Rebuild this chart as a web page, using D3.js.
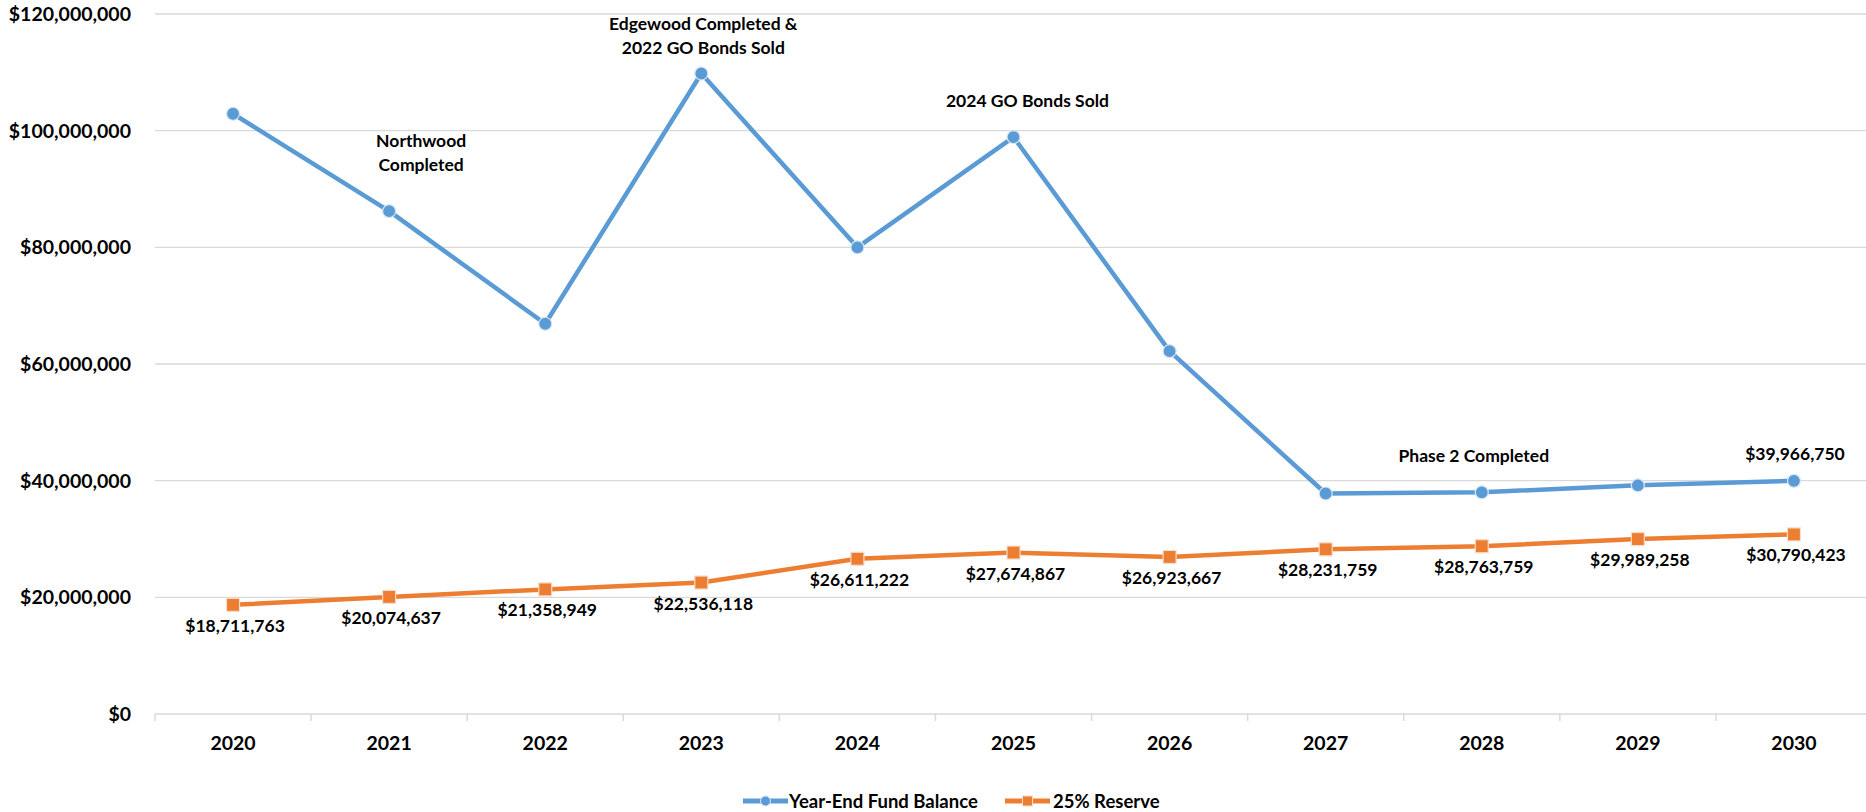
<!DOCTYPE html>
<html>
<head>
<meta charset="utf-8">
<script src="https://cdn.jsdelivr.net/npm/d3@7"></script>
<style>
  html, body { margin: 0; padding: 0; background: #fff; }
  svg { display: block; font-family: Lato, "Open Sans", sans-serif; font-weight: 700; }
</style>
</head>
<body>
<svg id="chart" width="1866" height="812"></svg>
<script>
// Fund balance projection, 2020-2030
const years = ["2020","2021","2022","2023","2024","2025","2026","2027","2028","2029","2030"];
const fundBalance = [102900000, 86200000, 66900000, 109800000, 80000000, 98900000, 62200000, 37800000, 38000000, 39200000, 39966750];
const reserve = [18711763, 20074637, 21358949, 22536118, 26611222, 27674867, 26923667, 28231759, 28763759, 29989258, 30790423];
const yTicks = [0, 20000000, 40000000, 60000000, 80000000, 100000000, 120000000];
const seriesNames = ["Year-End Fund Balance", "25% Reserve"];
const notes = [
  { year: "2021", lines: ["Northwood", "Completed"] },
  { year: "2023", lines: ["Edgewood Completed &", "2022 GO Bonds Sold"] },
  { year: "2025", lines: ["2024 GO Bonds Sold"] },
  { year: "2028", lines: ["Phase 2 Completed"] }
];

const W = 1866, H = 812;
const svg = d3.select("#chart");
const blue = "#5b9bd5", orange = "#ed7d31", grid = "#d9d9d9";

const plot = { left: 155, right: 1872, top: 14, bottom: 714 };
const x = d3.scalePoint().domain(years).range([plot.left, plot.right]).padding(0.5);
const step = x.step();
const y = d3.scaleLinear().domain([0, 120000000]).range([plot.bottom, plot.top]);
const money = d3.format("$,.0f");

// gridlines
svg.append("g").selectAll("line").data(yTicks.filter(d => d > 0)).join("line")
  .attr("x1", plot.left).attr("x2", W)
  .attr("y1", d => y(d)).attr("y2", d => y(d))
  .attr("stroke", grid).attr("stroke-width", 1.3);

// baseline axis with category boundary ticks
const axis = svg.append("g");
axis.append("line").attr("x1", plot.left).attr("x2", W)
  .attr("y1", y(0)).attr("y2", y(0)).attr("stroke", grid).attr("stroke-width", 1.5);
axis.selectAll("line.tk").data(d3.range(years.length + 1)).join("line").attr("class", "tk")
  .attr("x1", i => plot.left + i * step).attr("x2", i => plot.left + i * step)
  .attr("y1", y(0)).attr("y2", y(0) + 7).attr("stroke", grid).attr("stroke-width", 1.5);

// y axis labels
svg.append("g").selectAll("text").data(yTicks).join("text")
  .attr("x", 131).attr("y", d => y(d) + 7)
  .attr("text-anchor", "end").attr("font-size", 19.5).attr("fill", "#000")
  .text(d => money(d));

// x axis labels
svg.append("g").selectAll("text").data(years).join("text")
  .attr("x", d => x(d)).attr("y", 750)
  .attr("text-anchor", "middle").attr("font-size", 19.5).attr("fill", "#000")
  .text(d => d);

const line = d3.line().x((d, i) => x(years[i])).y(d => y(d));

// reserve series
svg.append("path").datum(reserve).attr("d", line)
  .attr("fill", "none").attr("stroke", orange).attr("stroke-width", 4.5).attr("stroke-linejoin", "round");
svg.append("g").selectAll("rect").data(reserve).join("rect")
  .attr("x", (d, i) => x(years[i]) - 6.5).attr("y", d => y(d) - 6.5)
  .attr("width", 13).attr("height", 13)
  .attr("fill", orange).attr("stroke", "#f6dccb").attr("stroke-width", 1.2);

// fund balance series
svg.append("path").datum(fundBalance).attr("d", line)
  .attr("fill", "none").attr("stroke", blue).attr("stroke-width", 4.5).attr("stroke-linejoin", "round");
svg.append("g").selectAll("circle").data(fundBalance).join("circle")
  .attr("cx", (d, i) => x(years[i])).attr("cy", d => y(d)).attr("r", 6.5)
  .attr("fill", blue).attr("stroke", "#d6e6f5").attr("stroke-width", 1.2);

// reserve value labels
svg.append("g").selectAll("text").data(reserve).join("text")
  .attr("x", (d, i) => x(years[i]) + 2).attr("y", d => y(d) + 27)
  .attr("text-anchor", "middle").attr("font-size", 17.5).attr("fill", "#000")
  .text(d => money(d));

// final fund balance label
const last = fundBalance.length - 1;
svg.append("text")
  .attr("x", x(years[last]) + 1).attr("y", y(fundBalance[last]) - 21)
  .attr("text-anchor", "middle").attr("font-size", 17.5).attr("fill", "#000")
  .text(money(fundBalance[last]));

// event annotations
const noteOffset = {
  "2021": { dx: 32, y: 147 },
  "2023": { dx: 2, y: 30 },
  "2025": { dx: 14, y: 107 },
  "2028": { dx: -8, y: 462 }
};
notes.forEach(n => {
  const o = noteOffset[n.year];
  const t = svg.append("text").attr("text-anchor", "middle").attr("font-size", 17.5).attr("fill", "#000");
  n.lines.forEach((s, i) => {
    t.append("tspan").attr("x", x(n.year) + o.dx).attr("y", o.y + i * 24).text(s);
  });
});

// legend
const lg = svg.append("g").attr("transform", "translate(0,801)");
const items = [
  { name: seriesNames[0], color: blue, shape: "circle", x0: 743, tx: 789 },
  { name: seriesNames[1], color: orange, shape: "square", x0: 1005, tx: 1053 }
];
items.forEach(it => {
  lg.append("line").attr("x1", it.x0).attr("x2", it.x0 + 45).attr("y1", 0).attr("y2", 0)
    .attr("stroke", it.color).attr("stroke-width", 5);
  if (it.shape === "circle") {
    lg.append("circle").attr("cx", it.x0 + 22.5).attr("cy", 0).attr("r", 5)
      .attr("fill", it.color).attr("stroke", "#d6e6f5").attr("stroke-width", 1);
  } else {
    lg.append("rect").attr("x", it.x0 + 17.5).attr("y", -5).attr("width", 10).attr("height", 10)
      .attr("fill", it.color).attr("stroke", "#f6dccb").attr("stroke-width", 1);
  }
  lg.append("text").attr("x", it.tx).attr("y", 6.5).attr("font-size", 18.5).attr("fill", "#000").text(it.name);
});
</script>
</body>
</html>
